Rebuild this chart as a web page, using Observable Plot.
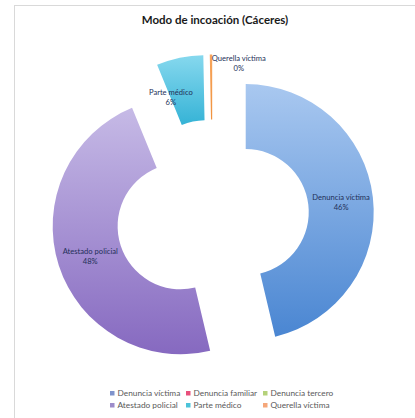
<!DOCTYPE html>
<html>
<head>
<meta charset="utf-8">
<script src="https://cdn.jsdelivr.net/npm/d3@7"></script>
<script src="https://cdn.jsdelivr.net/npm/@observablehq/plot@0.6"></script>
<style>
  html, body { margin: 0; padding: 0; background: #fff; }
  body { width: 415px; height: 418px; position: relative; overflow: hidden; font-family: Lato, "Open Sans", sans-serif; }
  #chart { position: absolute; left: 0; top: 0; }
  #frame { position: absolute; left: 14px; top: 5px; width: 430px; height: 440px; border: 1px solid #d9d9d9; pointer-events: none; z-index: 2; }
  #title { position: absolute; left: 0; top: 13px; width: 430px; text-align: center; font-family: Lato, sans-serif; font-weight: bold; font-size: 11.5px; color: #1a1a1a; z-index: 3; }
  #legend { position: absolute; left: 110px; top: 388px; z-index: 3; }
  #legend .lg-swatches-wrap { display: grid !important; grid-template-columns: 76px 77px auto; min-height: 0 !important; row-gap: 2px; margin: 0 !important; font-family: Lato, sans-serif !important; font-size: 8.3px !important; color: #595959 !important; }
  #legend .lg-swatch { margin-right: 0 !important; }
  #legend .lg-swatch > svg { margin-right: 3px !important; }
</style>
</head>
<body>
<div id="chart"></div>
<div id="frame"></div>
<div id="title">Modo de incoación (Cáceres)</div>
<div id="legend"></div>
<script>
// ---- data ----
const categories = ["Denuncia víctima", "Denuncia familiar", "Denuncia tercero", "Atestado policial", "Parte médico", "Querella víctima"];
const values = [46.3, 0, 0, 47.5, 5.9, 0.3];
const legendColors = ["#7f93cc", "#e8507c", "#b5d27a", "#9d8cca", "#4cc3d9", "#f5a77a"];
const gradientTop = ["#a9c8f0", "#f07a9a", "#c8e09a", "#c6baE6", "#86d8ee", "#f7a55c"];
const gradientBottom = ["#4a86d2", "#d03060", "#98b850", "#8669c0", "#35b3d6", "#f0923e"];

// ---- geometry (in scale units) ----
const cx = 212.5, cy = 216, unitPx = 160;
const outerR = 0.8, innerR = 0.394, explode = 0.209;

const table = categories.map((name, i) => ({name, value: values[i], index: i}));
const arcs = d3.pie().sort(null).value(d => d.value)(table).map(a => {
  const mid = (a.startAngle + a.endAngle) / 2;
  const ex = explode * Math.sin(mid), ey = explode * Math.cos(mid);
  const rm = (outerR + innerR) / 2;
  return {
    ...a, mid, ex, ey,
    name: a.data.name,
    lx: ex + rm * Math.sin(mid),
    ly: ey + rm * Math.cos(mid),
    label: `${a.data.name}\n${Math.round(a.data.value)}%`
  };
});
const drawn = arcs.filter(a => a.value > 0);

function donut(index, scales) {
  const g = d3.create("svg:g");
  const defs = g.append("defs");
  const unit = scales.x(1) - scales.x(0);
  const arcGen = d3.arc().innerRadius(innerR * unit).outerRadius(outerR * unit);
  drawn.forEach(a => {
    const id = "grad" + a.data.index;
    const lg = defs.append("linearGradient").attr("id", id)
      .attr("x1", 0).attr("y1", 0).attr("x2", 0).attr("y2", 1);
    lg.append("stop").attr("offset", "0%").attr("stop-color", gradientTop[a.data.index]);
    lg.append("stop").attr("offset", "100%").attr("stop-color", gradientBottom[a.data.index]);
    g.append("path")
      .attr("transform", `translate(${scales.x(a.ex)},${scales.y(a.ey)})`)
      .attr("d", arcGen(a))
      .attr("fill", `url(#${id})`);
  });
  return g.node();
}

const textStyle = {fontFamily: "Lato, sans-serif", fontSize: 7.6, fill: "#233058", lineHeight: 1.3, textAnchor: "middle"};

const chart = Plot.plot({
  width: 415,
  height: 418,
  margin: 0,
  style: {background: "transparent"},
  x: {domain: [-1, 1], range: [cx - unitPx, cx + unitPx], axis: null},
  y: {domain: [-1, 1], range: [cy + unitPx, cy - unitPx], axis: null},
  marks: [
    donut,
    Plot.text(drawn.filter(a => a.value >= 10), {x: "lx", y: "ly", text: "label", ...textStyle}),
    Plot.text(drawn.filter(a => a.name === "Parte médico"), {x: "lx", y: "ly", text: "label", dx: -16, dy: 7, ...textStyle}),
    Plot.text(drawn.filter(a => a.name === "Querella víctima"), {x: "lx", y: "ly", text: "label", dx: 27, dy: -25, ...textStyle})
  ]
});
document.getElementById("chart").appendChild(chart);

const legend = Plot.legend({
  color: {type: "ordinal", domain: categories, range: legendColors},
  swatchSize: 4.5,
  className: "lg"
});
document.getElementById("legend").appendChild(legend);
</script>
</body>
</html>
